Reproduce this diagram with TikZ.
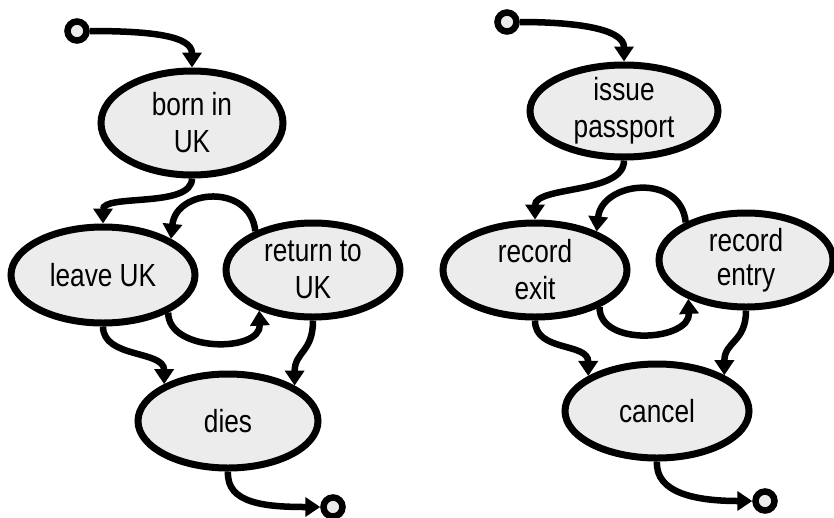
\documentclass[tikz,border=0pt]{standalone}
\usepackage{fontspec}
\setmainfont{Liberation Sans}[FakeStretch=0.82]
\usetikzlibrary{shapes.geometric,arrows.meta}
\definecolor{stategray}{HTML}{ECECEC}
\begin{document}
\begin{tikzpicture}[x=1pt,y=-1pt,
  state/.style={ellipse, draw, line width=7pt, fill=stategray, inner sep=0pt},
  term/.style={circle, draw, line width=6.5pt, fill=stategray, minimum size=19pt, inner sep=0pt},
  flow/.style={line width=6.5pt, -{Triangle[length=15pt,width=19pt]}},
  lbl/.style={align=center, inner sep=0pt, font=\fontsize{32}{37}\selectfont}]
\useasboundingbox (0,0) rectangle (834,517);

% ---- citizen life cycle ----
\node[term] (s1) at (77,31) {};
\node[state, minimum width=182pt, minimum height=104pt,
      label={[lbl]center:born in\\UK}] (born) at (192,123) {};
\node[state, minimum width=184pt, minimum height=96pt,
      label={[lbl]center:leave UK}] (leave) at (103,275) {};
\node[state, minimum width=174pt, minimum height=94pt,
      label={[lbl]center:return to\\UK}] (ret) at (313,270) {};
\node[state, minimum width=180pt, minimum height=94pt,
      label={[lbl]center:dies}] (dies) at (228,421) {};
\node[term] (e1) at (333,507) {};

\draw[flow] (s1.east) .. controls +(60,0) and +(0,-32) .. (born.north);
\draw[flow] (born.south) .. controls +(0,30) and +(0,-30) .. (leave.north);
\draw[flow] (ret.146) .. controls +(-5,-48) and +(5,-50) .. (leave.28);
\draw[flow] (leave.-30) .. controls +(0,40) and +(2,42) .. (ret.217);
\draw[flow] (leave.south) .. controls +(0,32) and +(0,-34) .. (dies.150);
\draw[flow] (ret.south) .. controls +(0,32) and +(0,-34) .. (dies.28);
\draw[flow] (dies.south) .. controls +(-2,32) and +(-55,0) .. (e1.west);

% ---- passport life cycle ----
\node[term] (s2) at (507,22) {};
\node[state, minimum width=188pt, minimum height=92pt,
      label={[lbl]center:issue\\passport}] (issue) at (624,111) {};
\node[state, minimum width=184pt, minimum height=94pt,
      label={[lbl]center:record\\exit}] (rexit) at (535,270) {};
\node[state, minimum width=174pt, minimum height=94pt,
      label={[lbl, font=\fontsize{32}{34}\selectfont]center:record\\entry}] (rentry) at (746,260) {};
\node[state, minimum width=184pt, minimum height=94pt,
      label={[lbl]center:cancel}] (cancel) at (657,411) {};
\node[term] (e2) at (765,501) {};

\draw[flow] (s2.east) .. controls +(60,0) and +(0,-32) .. (issue.north);
\draw[flow] (issue.south) .. controls +(0,34) and +(0,-34) .. (rexit.north);
\draw[flow] (rentry.148) .. controls +(-5,-50) and +(5,-50) .. (rexit.32);
\draw[flow] (rexit.-30) .. controls +(0,40) and +(2,42) .. (rentry.214);
\draw[flow] (rexit.south) .. controls +(0,32) and +(0,-34) .. (cancel.153);
\draw[flow] (rentry.south) .. controls +(0,32) and +(0,-34) .. (cancel.28);
\draw[flow] (cancel.south) .. controls +(-2,32) and +(-55,0) .. (e2.west);
\end{tikzpicture}
\end{document}
